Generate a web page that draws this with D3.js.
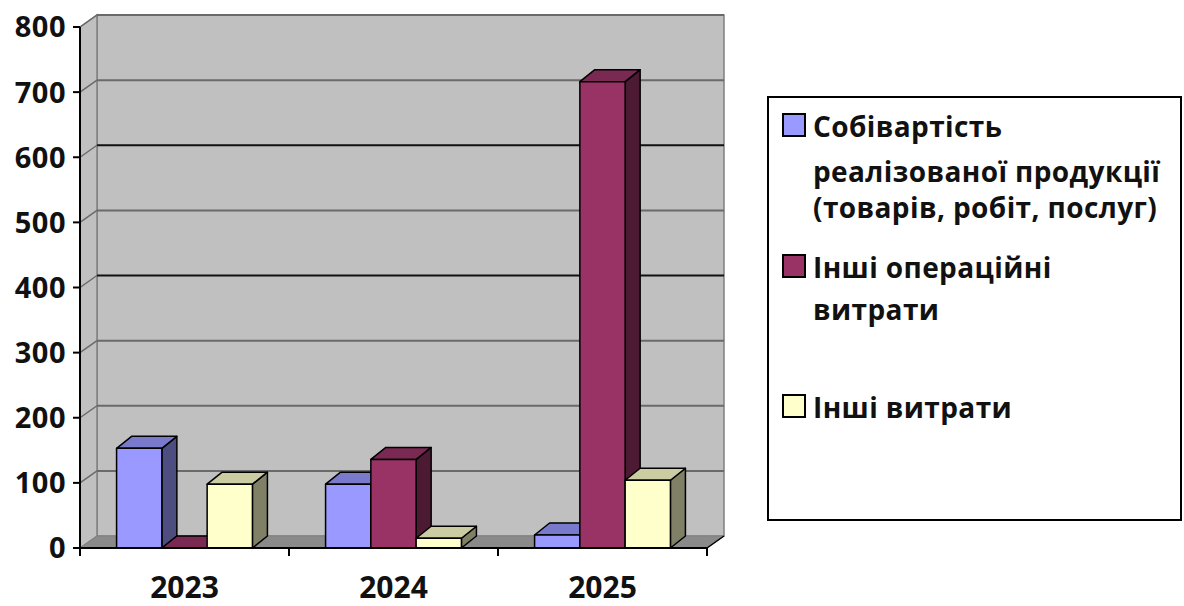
<!DOCTYPE html>
<html>
<head>
<meta charset="utf-8">
<script src="https://cdn.jsdelivr.net/npm/d3@7"></script>
<style>
  html, body { margin: 0; padding: 0; background: #fff; }
  svg { display: block; }
  text { font-family: "Open Sans", "Noto Sans", sans-serif; font-weight: 700; fill: #111; }
</style>
</head>
<body>
<svg id="chart" width="1184" height="606"></svg>
<script>
// Years on the category axis
const years = ["2023", "2024", "2025"];

// Expense series, one value per year
const costOfSales    = [153, 98, 20];
const otherOperating = [0, 136, 716];
const otherExpenses  = [98, 15, 104];

// Series names, split into the lines shown in the legend
const seriesNames = [
  ["Собівартість", "реалізованої продукції", "(товарів, робіт, послуг)"],
  ["Інші операційні", "витрати"],
  ["Інші витрати"]
];

// Value axis ticks
const yTicks = [0, 100, 200, 300, 400, 500, 600, 700, 800];

const seriesValues = [costOfSales, otherOperating, otherExpenses];
const seriesKeys = ["cost", "operating", "other"];

const colors = {
  cost:      { front: "#9999ff", top: "#7a7acc", side: "#4d4d80" },
  operating: { front: "#993366", top: "#7a2952", side: "#4d1a33" },
  other:     { front: "#ffffcc", top: "#cccca3", side: "#808066" }
};

const svg = d3.select("#chart");

// Plot frame (front plane) and the depth of the back wall
const plotLeft = 80, plotRight = 707, plotBottom = 548, plotTop = 27;
const wallDX = 17, wallDY = -12;
const barDX = 15, barDY = -12;

const y = d3.scaleLinear().domain([0, 800]).range([plotBottom, plotTop]);
const x0 = d3.scaleBand().domain(years).range([plotLeft, plotRight])
  .paddingInner(0.35).paddingOuter(0.175);
const x1 = d3.scaleBand().domain(seriesKeys).range([0, x0.bandwidth()]).padding(0);

const pts = p => p.map(d => d.join(",")).join(" ");

// Walls and floor
const walls = svg.append("g");
walls.append("polygon") // back wall
  .attr("points", pts([[plotLeft + wallDX, y(800) + wallDY], [plotRight + wallDX, y(800) + wallDY],
                       [plotRight + wallDX, y(0) + wallDY], [plotLeft + wallDX, y(0) + wallDY]]))
  .attr("fill", "#c0c0c0").attr("stroke", "#808080").attr("stroke-width", 1.5);
walls.append("polygon") // side wall
  .attr("points", pts([[plotLeft, y(800)], [plotLeft + wallDX, y(800) + wallDY],
                       [plotLeft + wallDX, y(0) + wallDY], [plotLeft, y(0)]]))
  .attr("fill", "#c0c0c0").attr("stroke", "#808080").attr("stroke-width", 1.5);
walls.append("polygon") // floor
  .attr("points", pts([[plotLeft, y(0)], [plotRight, y(0)],
                       [plotRight + wallDX, y(0) + wallDY], [plotLeft + wallDX, y(0) + wallDY]]))
  .attr("fill", "#8a8a8a").attr("stroke", "#808080").attr("stroke-width", 1);

// Gridlines on the back wall and their run across the side wall
const grid = svg.append("g");
yTicks.filter(t => t > 0).forEach(t => {
  const strong = t === 400 || t === 600;
  grid.append("line")
    .attr("x1", plotLeft + wallDX).attr("x2", plotRight + wallDX)
    .attr("y1", y(t) + wallDY).attr("y2", y(t) + wallDY)
    .attr("stroke", strong ? "#111" : "#6a6a6a").attr("stroke-width", 2);
  grid.append("line")
    .attr("x1", plotLeft).attr("y1", y(t))
    .attr("x2", plotLeft + wallDX).attr("y2", y(t) + wallDY)
    .attr("stroke", "#6a6a6a").attr("stroke-width", 1.5);
});

// 3D columns: front face, top and right side
const bars = svg.append("g").attr("stroke", "#000").attr("stroke-width", 1.5)
  .attr("stroke-linejoin", "round");
years.forEach((yr, i) => {
  seriesKeys.forEach((key, s) => {
    const v = seriesValues[s][i];
    const xa = x0(yr) + x1(key), xb = xa + x1.bandwidth();
    const yt = y(v), yb = y(0);
    const c = colors[key];
    const g = bars.append("g");
    g.append("polygon").attr("fill", c.side)
      .attr("points", pts([[xb, yt], [xb + barDX, yt + barDY], [xb + barDX, yb + barDY], [xb, yb]]));
    g.append("polygon").attr("fill", c.top)
      .attr("points", pts([[xa, yt], [xa + barDX, yt + barDY], [xb + barDX, yt + barDY], [xb, yt]]));
    if (yb - yt > 0) {
      g.append("rect").attr("fill", c.front)
        .attr("x", xa).attr("y", yt).attr("width", xb - xa).attr("height", yb - yt);
    }
  });
});

// Value axis
const yAxis = svg.append("g");
yAxis.append("line").attr("x1", plotLeft).attr("x2", plotLeft).attr("y1", y(800)).attr("y2", y(0))
  .attr("stroke", "#000").attr("stroke-width", 2);
yTicks.forEach(t => {
  yAxis.append("line").attr("x1", plotLeft - 7).attr("x2", plotLeft).attr("y1", y(t)).attr("y2", y(t))
    .attr("stroke", "#000").attr("stroke-width", 2);
  yAxis.append("text").attr("x", plotLeft - 14).attr("y", y(t)).attr("dy", "0.36em")
    .attr("text-anchor", "end").style("font-size", "29px").style("letter-spacing", "0.5px").text(t);
});

// Category axis
const xAxis = svg.append("g");
xAxis.append("line").attr("x1", plotLeft).attr("x2", plotRight).attr("y1", y(0)).attr("y2", y(0))
  .attr("stroke", "#000").attr("stroke-width", 2);
xAxis.append("line").attr("x1", plotRight).attr("y1", y(0))
  .attr("x2", plotRight + wallDX).attr("y2", y(0) + wallDY)
  .attr("stroke", "#000").attr("stroke-width", 1.5);
const edges = years.map(yr => x0(yr) - x0.step() * x0.paddingOuter());
edges.push(plotRight);
edges.forEach(ex => {
  xAxis.append("line").attr("x1", ex).attr("x2", ex).attr("y1", y(0)).attr("y2", y(0) + 8)
    .attr("stroke", "#000").attr("stroke-width", 2);
});
years.forEach(yr => {
  xAxis.append("text").attr("x", x0(yr) + x0.bandwidth() / 2).attr("y", 598)
    .attr("text-anchor", "middle").style("font-size", "30px").text(yr);
});

// Legend
const legend = svg.append("g");
legend.append("rect").attr("x", 768).attr("y", 97).attr("width", 413).attr("height", 423)
  .attr("fill", "#fff").attr("stroke", "#000").attr("stroke-width", 2);
const legendBaselines = [137, 278, 418];
const lineGaps = [[0, 45, 81], [0, 42], [0]];
seriesKeys.forEach((key, s) => {
  const b = legendBaselines[s];
  legend.append("rect").attr("x", 783).attr("y", b - 23).attr("width", 22).attr("height", 22)
    .attr("fill", colors[key].front).attr("stroke", "#000").attr("stroke-width", 2);
  seriesNames[s].forEach((line, j) => {
    legend.append("text").attr("x", 813).attr("y", b + lineGaps[s][j])
      .style("font-size", "28px").style("letter-spacing", "0.4px").text(line);
  });
});
</script>
</body>
</html>
